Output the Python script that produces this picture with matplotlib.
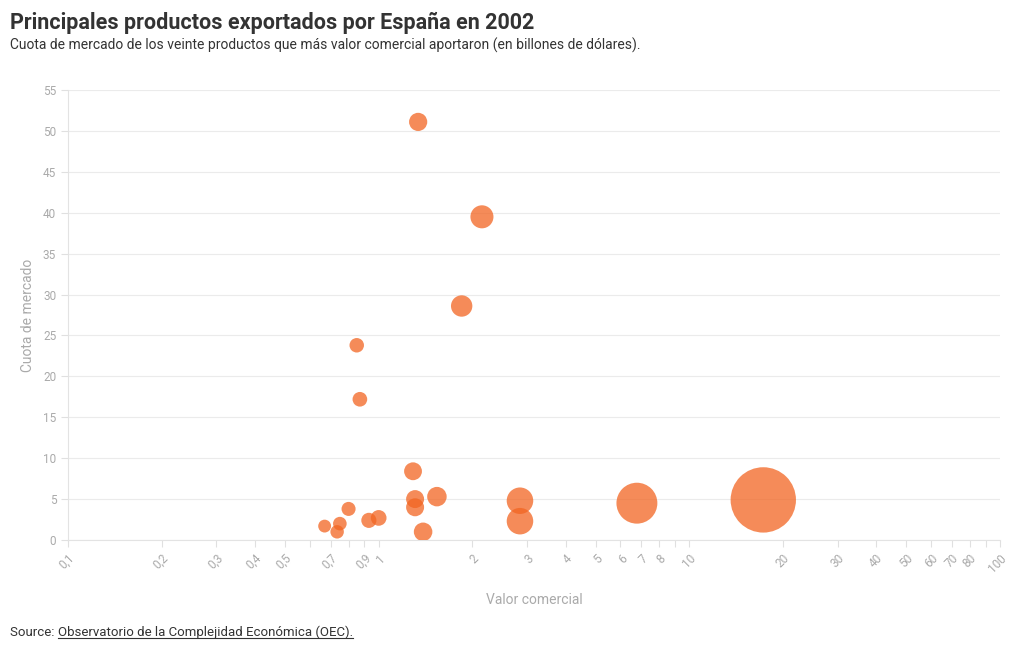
# Principales productos exportados por España en 2002 - bubble chart
import numpy as np
import matplotlib.pyplot as plt
from matplotlib.ticker import FixedLocator, FixedFormatter, NullLocator
from matplotlib.lines import Line2D

plt.rcParams['font.family'] = ['Roboto', 'DejaVu Sans']

# valor comercial (billones de dólares) y cuota de mercado (%)
valor = [1.34, 2.15, 1.85, 0.85, 0.87, 1.29, 1.31, 1.31, 1.54, 1.39,
         2.85, 2.85, 6.78, 17.3, 0.67, 0.75, 0.735, 0.80, 0.93, 1.0]
cuota = [51.1, 39.5, 28.6, 23.8, 17.2, 8.4, 5.0, 4.0, 5.3, 1.0,
         4.8, 2.3, 4.5, 4.9, 1.7, 2.0, 1.0, 3.8, 2.4, 2.7]

xticks = [0.1, 0.2, 0.3, 0.4, 0.5, 0.6, 0.7, 0.8, 0.9, 1, 2, 3, 4, 5, 6, 7, 8, 9,
          10, 20, 30, 40, 50, 60, 70, 80, 90, 100]
xlabels = ['0,1', '0,2', '0,3', '0,4', '0,5', '', '0,7', '', '0,9', '1', '2', '3', '4',
           '5', '6', '7', '8', '', '10', '20', '30', '40', '50', '60', '70', '80', '', '100']
yticks = [0, 5, 10, 15, 20, 25, 30, 35, 40, 45, 50, 55]

W, H = 1020, 650
fig = plt.figure(figsize=(W / 100, H / 100), dpi=100)
ax = fig.add_axes([68 / W, (H - 540) / H, 932 / W, 450 / H])

# burbujas: área proporcional al valor comercial
sizes = [128 * v for v in valor]
ax.scatter(valor, cuota, s=sizes, color='#f26522', alpha=0.75, linewidths=0, zorder=3)

ax.set_xscale('log')
ax.set_xlim(0.1, 100)
ax.set_ylim(0, 55)
ax.xaxis.set_major_locator(FixedLocator(xticks))
ax.xaxis.set_major_formatter(FixedFormatter(xlabels))
ax.xaxis.set_minor_locator(NullLocator())
ax.set_yticks(yticks)
ax.set_yticklabels([str(v) for v in yticks])

ax.grid(axis='y', color='#ebebeb', linewidth=0.8, zorder=0)
for side in ['top', 'right']:
    ax.spines[side].set_visible(False)
for side in ['left', 'bottom']:
    ax.spines[side].set_color('#e3e3e3')
    ax.spines[side].set_linewidth(0.8)

ax.tick_params(axis='both', colors='#e0e0e0', labelcolor='#aaaaaa', labelsize=8.5, length=5, width=0.8)
for lbl in ax.get_xticklabels():
    lbl.set_rotation(45)
    lbl.set_ha('right')
    lbl.set_va('top')
    lbl.set_rotation_mode('anchor')

ax.set_xlabel('Valor comercial', color='#aaaaaa', fontsize=10, labelpad=13)
ax.set_ylabel('Cuota de mercado', color='#aaaaaa', fontsize=10, labelpad=6)

fig.text(10 / W, 1 - 23 / H, 'Principales productos exportados por España en 2002',
         fontsize=15.5, fontweight='bold', color='#333333', va='center', ha='left')
fig.text(10 / W, 1 - 45 / H,
         'Cuota de mercado de los veinte productos que más valor comercial aportaron (en billones de dólares).',
         fontsize=10, color='#333333', va='center', ha='left')

t1 = fig.text(10 / W, 1 - 632 / H, 'Source: ', fontsize=9.5, color='#333333', va='center', ha='left')
fig.canvas.draw()
bb = t1.get_window_extent()
t2 = fig.text(bb.x1 / W, 1 - 632 / H, 'Observatorio de la Complejidad Económica (OEC).',
              fontsize=9.5, color='#333333', va='center', ha='left')
fig.canvas.draw()
bb2 = t2.get_window_extent()
uy = (bb2.y0 + 1) / H
fig.add_artist(Line2D([bb2.x0 / W, bb2.x1 / W], [uy, uy], color='#333333', linewidth=0.8))

fig.savefig('out.png', dpi=100, facecolor='white')
